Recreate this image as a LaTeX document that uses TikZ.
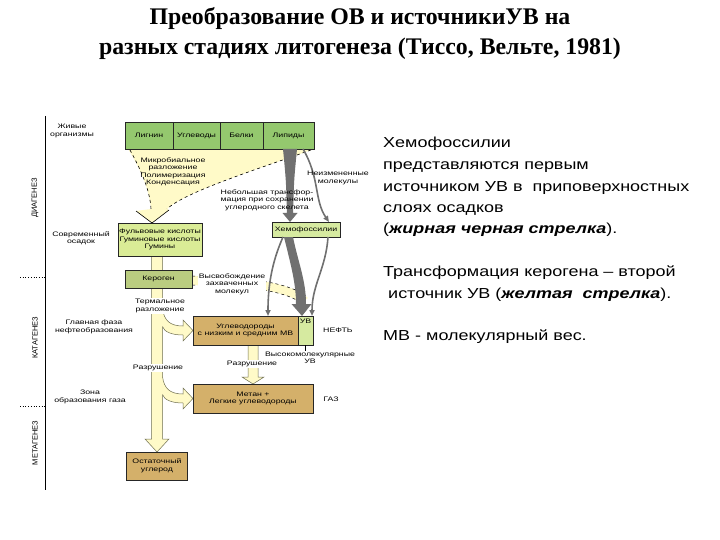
\documentclass[tikz,border=0pt]{standalone}
\usepackage{fontspec}
\setmainfont{Liberation Sans}
\newfontfamily\titlefont{Liberation Serif}
\newfontfamily\notefont[FakeStretch=1.24]{Liberation Sans}
\newfontfamily\diagfont[FakeStretch=1.35]{Liberation Sans}
\usetikzlibrary{arrows.meta, positioning, calc, backgrounds}

\definecolor{topgreen}{RGB}{148,200,110}
\definecolor{humgreen}{RGB}{218,236,150}
\definecolor{kergreen}{RGB}{186,204,128}
\definecolor{chemgreen}{RGB}{214,234,160}
\definecolor{oiltan}{RGB}{212,176,106}
\definecolor{ypale}{RGB}{255,250,200}
\definecolor{yedge}{RGB}{110,110,80}
\definecolor{gflow}{RGB}{112,112,112}

\newcommand{\diag}{\diagfont\fontsize{6.5}{7.5}\selectfont}

\tikzset{
  box/.style={draw=black!85, line width=0.7pt, inner sep=0pt, outer sep=0pt, align=center, font=\diag},
  srcbox/.style={box, fill=topgreen, minimum height=27pt},
  oilbox/.style={box, fill=oiltan},
  lbl/.style={font=\diag, align=center, inner sep=1pt},
  whitelbl/.style={lbl, fill=white},
  stage/.style={rotate=90, font=\fontsize{7.5}{8}\selectfont},
  titletext/.style={anchor=base, inner sep=0pt, font=\titlefont\bfseries\fontsize{23.8}{26}\selectfont},
  notetext/.style={anchor=base west, inner sep=0pt, font=\notefont\fontsize{14.5}{17}\selectfont},
  ytrack/.style={fill=ypale, draw=yedge, line width=0.5pt},
  gthin/.style={draw=gflow, line width=1.6pt, -{Triangle[width=5pt,length=6pt]}},
}

\begin{document}
\begin{tikzpicture}[x=1pt,y=-1pt]
  \useasboundingbox (0,0) rectangle (720,540);

  % Title
  \node[titletext] (title1) at (360,25) {Преобразование ОВ и источникиУВ на};
  \node[titletext] (title2) at (360,55) {разных стадиях литогенеза (Тиссо, Вельте, 1981)};

  % Stage axis
  \draw[line width=0.8pt] (45,116) -- (45,490);
  \draw[dotted, line width=0.7pt] (20,277) -- (45,277);
  \draw[dotted, line width=0.7pt] (20,406) -- (45,406);
  \node[stage] (diagenesis) at (35,198) {ДИАГЕНЕЗ};
  \node[stage] (catagenesis) at (35,338) {КАТАГЕНЕЗ};
  \node[stage] (metagenesis) at (35,443) {МЕТАГЕНЕЗ};

  % Stage texts
  \node[lbl] (living) at (72,131) {Живые\\организмы};
  \node[lbl] (recent) at (81,238) {Современный\\осадок};
  \node[lbl] (oilzone) at (94,327) {Главная фаза\\нефтеобразования};
  \node[lbl] (gaszone) at (90,397) {Зона\\образования газа};

  % Source organic matter
  \node[srcbox, minimum width=48pt] (lignin) at (149,135.5) {Лигнин};
  \node[srcbox, minimum width=47pt, right=0pt of lignin] (carbo) {Углеводы};
  \node[srcbox, minimum width=43pt, right=0pt of carbo] (protein) {Белки};
  \node[srcbox, minimum width=51pt, right=0pt of protein] (lipid) {Липиды};

  % Boxes of the transformation chain
  \node[box, fill=humgreen, minimum width=84pt, minimum height=33pt] (humic) at (160,239.5) {Фульвовые кислоты\\Гуминовые кислоты\\Гумины};
  \node[box, fill=kergreen, minimum width=67pt, minimum height=18pt] (kerogen) at (158.5,279) {Кероген};
  \node[box, fill=chemgreen, minimum width=68pt, minimum height=15pt] (chemo) at (306,229.5) {Хемофоссилии};
  \node[oilbox, minimum width=105pt, minimum height=29pt] (light) at (245.5,330.5) {Углеводороды\\с низким и средним МВ};
  \node[box, fill=chemgreen, minimum width=15pt, minimum height=29pt, right=0pt of light] (uvsub) {};
  \node[lbl, below=1.5pt of uvsub.north] (uvtag) {УВ};
  \node[oilbox, minimum width=120pt, minimum height=29pt] (gas) at (253,398.5) {Метан +\\Легкие углеводороды};
  \node[oilbox, minimum width=61pt, minimum height=28pt] (residue) at (157,466) {Остаточный\\углерод};

  \node[lbl, right=9pt of uvsub] (oil) {НЕФТЬ};
  \node[lbl] (gastag) at (331,399) {ГАЗ};
  \node[lbl] (heavy) at (310,358) {Высокомолекулярные\\УВ};
  \draw[line width=0.5pt] (uvsub.south) -- (uvsub.south |- heavy.north);

  % Yellow path (kerogen line)
  \begin{scope}[on background layer]
    % funnel from living matter
    \fill[ypale] (128,149) -- (lipid.south east) .. controls (255,170) and (185,192) .. (167,209)
      -- (169,210) -- (152,223) -- (136,211) -- (151,209) .. controls (149,188) and (140,168) .. (128,149) -- cycle;
    \draw[dashed, line width=0.6pt] (130,150) .. controls (141,170) and (150,190) .. (151,209);
    \draw[dashed, line width=0.6pt] (311,150) .. controls (255,170) and (185,192) .. (167,209);
    \draw[line width=0.6pt] (136,211) -- (152,223) -- (169,210);

    % main track down to residual carbon
    \filldraw[ytrack] (151.5,256) -- (151.5,439) -- (145,439) -- (residue.north) -- (169,439) -- (162.5,439) -- (162.5,256);

    % branches to oil and gas
    \foreach \yc/\dest in {330.5/light, 398.5/gas} {
      \fill[ypale] (161,\yc-22) -- (162.5,\yc-22) .. controls (164,\yc-10) and (170,\yc-4.5) .. (183,\yc-4.5)
        -- (183,\yc-10.5) -- (\dest.west) -- (183,\yc+10.5) -- (183,\yc+4.5)
        .. controls (171,\yc+4.5) and (164,\yc+1) .. (162.5,\yc-4) -- (161,\yc-4) -- cycle;
      \draw[yedge, line width=0.5pt] (162.5,\yc-22) .. controls (164,\yc-10) and (170,\yc-4.5) .. (183,\yc-4.5)
        -- (183,\yc-10.5) -- (\dest.west) -- (183,\yc+10.5) -- (183,\yc+4.5)
        .. controls (171,\yc+4.5) and (164,\yc+1) .. (162.5,\yc-4);
    }

    % cracking of oil to gas
    \filldraw[ytrack] (248,345) -- (248,377) -- (242,377) -- (gas.north) -- (264,377) -- (258,377) -- (258,345);

    % release of trapped molecules
    \fill[ypale] (192,276) .. controls (240,276) and (292,282) .. (308,298)
      -- (301,303) .. controls (285,290) and (238,285) .. (192,285) -- cycle;
    \draw[dashed, line width=0.5pt] (192,276) .. controls (240,276) and (292,282) .. (308,298);
    \draw[dashed, line width=0.5pt] (192,285) .. controls (238,285) and (285,290) .. (301,303);
  \end{scope}

  % Chemofossils (grey arrows)
  \fill[gflow] (283,149) .. controls (286,180) .. (287,213) -- (282.5,213) -- ($(chemo.north west)+(18,0)$)
    -- (297.5,213) -- (293,213) .. controls (294,180) .. (297,149) -- cycle;
  \draw[gthin] ($(lipid.south east)+(-11,0)$) .. controls (320,178) and (314,200) .. ($(chemo.north east)+(-11,0)$);
  \draw[gthin] ($(chemo.south west)+(11,0)$) .. controls (272,262) and (268,285) .. ($(light.north east)+(-30,0)$);
  \fill[gflow] (284,237) .. controls (290,262) and (296,282) .. (296,304) -- (291.5,304) -- ($(uvsub.north)+(-3.5,0)$)
    -- (311.5,304) -- (306,304) .. controls (306,280) and (298,262) .. (293,237) -- cycle;
  \draw[gthin] ($(chemo.south east)+(-12,0)$) .. controls (326,268) and (312,285) .. ($(uvsub.north)+(6.5,0)$);

  % Process labels
  \node[lbl] (microbial) at (173,172) {Микробиальное\\разложение\\Полимеризация\\Конденсация};
  \node[lbl] (unchanged) at (338,178) {Неизмененные\\молекулы};
  \node[lbl] (slight) at (267,200) {Небольшая трансфор-\\мация при сохранении\\углеродного скелета};
  \node[whitelbl] (release) at (232,284) {Высвобождение\\захваченных\\молекул};
  \node[whitelbl] (thermal) at (160,306) {Термальное\\разложение};
  \node[whitelbl] (crack1) at (158,368) {Разрушение};
  \node[whitelbl] (crack2) at (252,364) {Разрушение};

  % Notes on the right
  \foreach \yb/\txt [count=\i] in {148/Хемофоссилии, 170/представляются первым,
      191.5/источником УВ в\ \ приповерхностных, 212.5/слоях осадков,
      233.5/{(\textbf{\textit{жирная черная стрелка}}).},
      276.5/Трансформация керогена – второй,
      298/{\ источник УВ (\textbf{\textit{желтая\ \ стрелка}}).},
      340/МВ - молекулярный вес.}
    \node[notetext] (note\i) at (383,\yb) {\txt};

\end{tikzpicture}
\end{document}
